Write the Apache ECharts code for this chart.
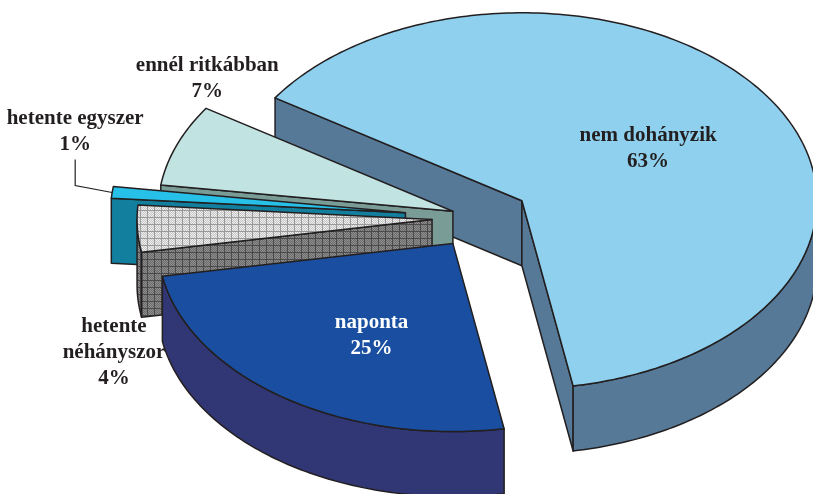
<!DOCTYPE html>
<html>
<head>
<meta charset="utf-8">
<script src="https://cdn.jsdelivr.net/npm/echarts@6/dist/echarts.min.js"></script>
</head>
<body style="margin:0;background:#fff">
<div id="main" style="width:813px;height:494px;"></div>
<script>
var categories = ['nem dohányzik', 'naponta', 'hetente néhányszor', 'hetente egyszer', 'ennél ritkábban'];
var shares = [63, 25, 4, 1, 7];

// look of the slices
var topColors = ['#8ED0EE', '#1A4EA0', 'hatch', '#27C0E8', '#C1E3E1'];
var sideColors = ['#557997', '#313775', 'hatchDark', '#137F9E', '#7A9C97'];
var explode = [49, 49, 49, 76, 30];
var labelAngle = [57, 209.5, 236.7, 291.1, 310.2];
var labelRadius = [0.51, 0.56, 1.29, 1.2, 1.09];
var labelColor = ['#231f20', '#ffffff', '#231f20', '#231f20', '#231f20'];
var labelBreak = [false, false, true, false, false];
var leader = [false, false, false, true, false];

var cx = 481, cy = 218, rx = 295, ry = 188, depth = 65, startAngle = -56.8;

function makePattern(base, dot, line) {
    var c = document.createElement('canvas');
    c.width = 7; c.height = 7;
    var g = c.getContext('2d');
    g.fillStyle = base; g.fillRect(0, 0, 7, 7);
    g.fillStyle = dot;
    for (var x = 0; x < 7; x++) for (var y = 0; y < 7; y++) {
        if ((x + y) % 2 == 0) g.fillRect(x, y, 1, 1);
    }
    g.fillStyle = line;
    g.fillRect(0, 0, 7, 1);
    g.fillRect(0, 0, 1, 7);
    return { image: c, repeat: 'repeat' };
}
var fills = {
    hatch: makePattern('#c6c6c6', '#eeeeee', '#999999'),
    hatchDark: makePattern('#6c6c6c', '#8e8e8e', '#4a4a4a')
};
function fillOf(c) { return fills[c] || c; }

var total = shares.reduce(function (s, v) { return s + v; }, 0);
var slices = [];
var acc = startAngle;
shares.forEach(function (v, i) {
    var a1 = acc;
    acc += v / total * 360;
    var mid = (a1 + acc) / 2 * Math.PI / 180;
    slices.push({
        a1: a1, a2: acc, mid: (a1 + acc) / 2,
        ax: cx + Math.sin(mid) * explode[i],
        ay: cy - Math.cos(mid) * explode[i] * ry / rx
    });
});
// back slices first
var order = slices.map(function (s, i) { return i; }).sort(function (a, b) { return slices[a].ay - slices[b].ay; });
order.forEach(function (idx, r) { slices[idx].rank = r; });

function P(s, deg, r, dz) {
    var t = deg * Math.PI / 180;
    return [s.ax + Math.sin(t) * rx * r, s.ay - Math.cos(t) * ry * r + (dz || 0)];
}
function arc(s, d1, d2, dz) {
    var pts = [];
    var n = Math.max(2, Math.ceil(Math.abs(d2 - d1)));
    for (var k = 0; k <= n; k++) pts.push(P(s, d1 + (d2 - d1) * k / n, 1, dz));
    return pts;
}
function norm(d) { return ((d % 360) + 360) % 360; }

var edge = { stroke: '#231f20', lineWidth: 1.5, lineJoin: 'round' };

function renderItem(params, api) {
    var i = params.dataIndex;
    var s = slices[i];
    var base = s.rank * 10;
    var side = fillOf(sideColors[i]);
    var children = [];
    var apex = [s.ax, s.ay], apexB = [s.ax, s.ay + depth];

    // radial faces
    var m1 = norm(s.a1), m2 = norm(s.a2);
    if (m1 > 180 && m1 < 360) {
        var p = P(s, s.a1, 1);
        children.push({ type: 'polygon', z2: base, shape: { points: [apex, p, [p[0], p[1] + depth], apexB] },
            style: Object.assign({ fill: side }, edge) });
    }
    if (m2 > 0 && m2 < 180) {
        var q = P(s, s.a2, 1);
        children.push({ type: 'polygon', z2: base, shape: { points: [apex, q, [q[0], q[1] + depth], apexB] },
            style: Object.assign({ fill: side }, edge) });
    }
    // outer wall, front half only
    [-360, 0, 360].forEach(function (o) {
        var lo = Math.max(s.a1, 90 + o), hi = Math.min(s.a2, 270 + o);
        if (hi > lo) {
            children.push({ type: 'polygon', z2: base + 1,
                shape: { points: arc(s, lo, hi, 0).concat(arc(s, hi, lo, depth)) },
                style: Object.assign({ fill: side }, edge) });
        }
    });
    // top face
    children.push({ type: 'polygon', z2: base + 5,
        shape: { points: [apex].concat(arc(s, s.a1, s.a2, 0)) },
        style: Object.assign({ fill: fillOf(topColors[i]) }, edge) });

    // label
    var lp = P(s, labelAngle[i], labelRadius[i]);
    var name = labelBreak[i] ? categories[i].replace(' ', '\n') : categories[i];
    children.push({ type: 'text', z2: 100, style: {
        text: name + '\n' + api.value(0) + '%',
        x: lp[0], y: lp[1],
        fill: labelColor[i],
        fontSize: 21, fontWeight: 'bold', fontFamily: '"Liberation Serif", "Times New Roman", serif',
        align: 'center', verticalAlign: 'middle', lineHeight: 26
    } });

    if (leader[i]) {
        var e = P(s, s.mid, 1);
        children.push({ type: 'polyline', z2: 100,
            shape: { points: [e, [lp[0], e[1] - 7], [lp[0], lp[1] + 28]] },
            style: { stroke: '#231f20', lineWidth: 1.2, fill: null } });
    }
    return { type: 'group', children: children };
}

var chartDom = document.getElementById('main');
var myChart = echarts.init(chartDom);
var option = {
    animation: false,
    series: [{
        type: 'custom',
        coordinateSystem: 'none',
        renderItem: renderItem,
        data: shares.map(function (v, i) { return { name: categories[i], value: [v] }; })
    }]
};
myChart.setOption(option);
</script>
</body>
</html>
